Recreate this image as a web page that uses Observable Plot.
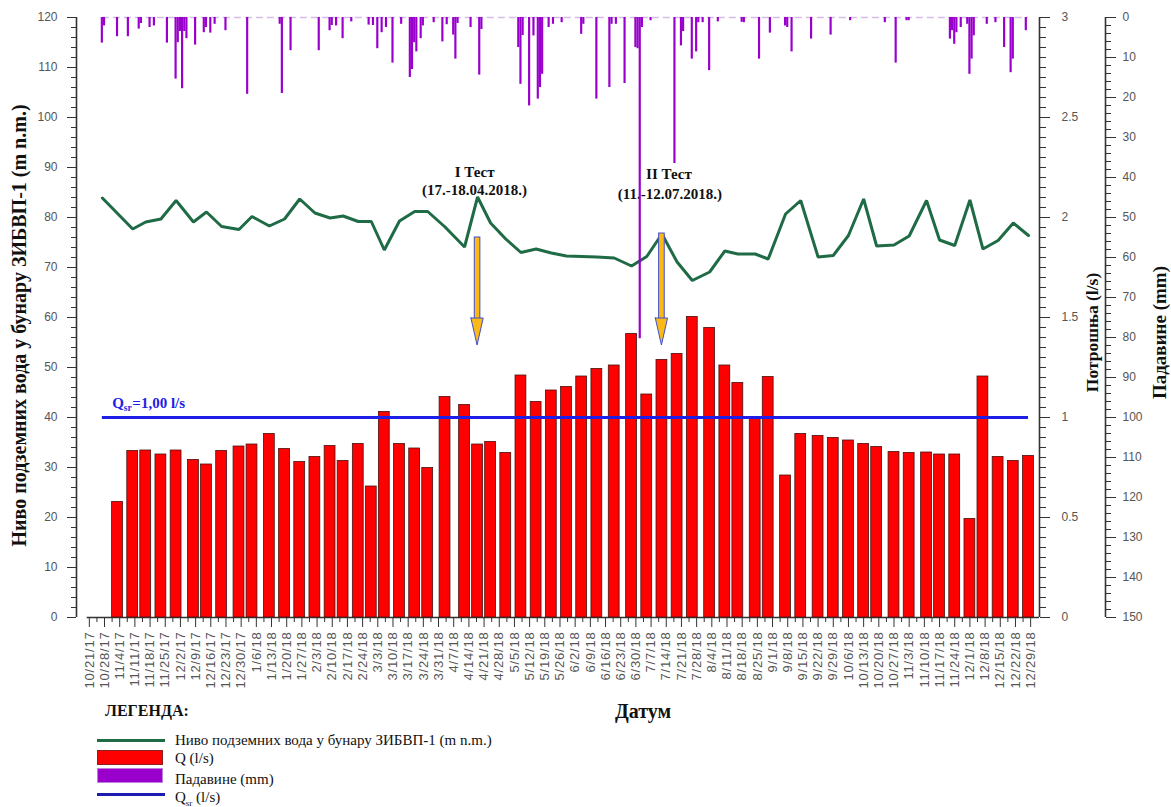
<!DOCTYPE html>
<html>
<head>
<meta charset="utf-8">
<script src="https://cdn.jsdelivr.net/npm/d3@7"></script>
<script src="https://cdn.jsdelivr.net/npm/@observablehq/plot@0.6"></script>
<style>
  html, body { margin: 0; padding: 0; background: #fff; }
  #wrap { position: relative; width: 1171px; height: 807px; overflow: hidden; background: #fff; }
  #wrap > svg { position: absolute; left: 0; top: 0; }
  #wrap g[aria-label="x-axis tick label"] text { letter-spacing: 0.8px; }
  .serif { font-family: "Liberation Serif", "Times New Roman", serif; color: #111; position: absolute; white-space: nowrap; }
  .bold { font-weight: bold; }
  .sw { position: absolute; }
</style>
</head>
<body>
<div id="wrap"></div>
<script>
// ---------------- DATA ----------------
// weekly measurement dates (pumping rate Q, l/s)
const qDates = ["2017-11-03","2017-11-10","2017-11-16","2017-11-23","2017-11-30","2017-12-08","2017-12-14","2017-12-21","2017-12-29",
  "2018-01-04","2018-01-12","2018-01-19","2018-01-26","2018-02-02","2018-02-09","2018-02-15","2018-02-22","2018-02-28",
  "2018-03-06","2018-03-13","2018-03-20","2018-03-26","2018-04-03","2018-04-12","2018-04-18","2018-04-24",
  "2018-05-01","2018-05-08","2018-05-15","2018-05-22","2018-05-29","2018-06-05","2018-06-12","2018-06-20","2018-06-28",
  "2018-07-05","2018-07-12","2018-07-19","2018-07-26","2018-08-03","2018-08-10","2018-08-16","2018-08-24","2018-08-30",
  "2018-09-07","2018-09-14","2018-09-22","2018-09-29","2018-10-06","2018-10-13","2018-10-19","2018-10-27",
  "2018-11-03","2018-11-11","2018-11-17","2018-11-24","2018-12-01","2018-12-07","2018-12-14","2018-12-21","2018-12-28"];
const qValues = [0.578,0.833,0.835,0.815,0.835,0.788,0.765,0.833,0.855,0.865,
  0.918,0.843,0.778,0.803,0.858,0.783,0.868,0.655,1.028,0.868,
  0.845,0.748,1.103,1.063,0.865,0.878,0.823,1.21,1.078,1.135,
  1.153,1.205,1.243,1.26,1.418,1.115,1.288,1.318,1.503,1.448,
  1.26,1.173,0.998,1.203,0.71,0.918,0.908,0.898,0.885,0.868,
  0.853,0.828,0.823,0.825,0.815,0.815,0.493,1.205,0.803,0.783,
  0.808];

// groundwater level (m n.m.)
const levelDates = ["2017-10-27"].concat(qDates);
const levelValues = [83.9,80.8,77.7,79.1,79.7,83.4,79.1,81.1,78.2,77.6,
  80.2,78.3,79.7,83.7,80.9,79.9,80.3,79.2,79.2,73.5,
  79.3,81.2,81.2,78.1,74.1,84.1,78.9,75.7,73.0,73.7,
  72.9,72.3,72.2,72.1,71.9,70.3,72.2,76.7,71.1,67.4,
  69.1,73.3,72.7,72.7,71.7,80.7,83.4,72.1,72.4,76.4,
  83.7,74.3,74.5,76.3,83.4,75.5,74.4,83.5,73.7,75.4,
  78.9,76.4];

// daily precipitation (mm)
const rainDates = ["2017-10-27","2017-10-28","2017-11-03","2017-11-08","2017-11-13","2017-11-14","2017-11-18","2017-11-20","2017-11-26",
  "2017-11-30","2017-12-01","2017-12-02","2017-12-03","2017-12-04","2017-12-05","2017-12-09","2017-12-13","2017-12-14","2017-12-16",
  "2017-12-18","2017-12-23","2018-01-02","2018-01-17","2018-01-18","2018-01-22","2018-02-04","2018-02-09","2018-02-10","2018-02-12",
  "2018-02-15","2018-02-19","2018-02-27","2018-03-01","2018-03-03","2018-03-05","2018-03-07","2018-03-10","2018-03-14","2018-03-18",
  "2018-03-19","2018-03-20","2018-03-21","2018-03-23","2018-03-24","2018-03-29","2018-04-02","2018-04-04","2018-04-07","2018-04-08",
  "2018-04-09","2018-04-15","2018-04-19","2018-04-20","2018-05-07","2018-05-08","2018-05-09","2018-05-12","2018-05-14","2018-05-16",
  "2018-05-17","2018-05-18","2018-05-21","2018-05-23","2018-05-27","2018-06-05","2018-06-06","2018-06-12","2018-06-18","2018-06-19",
  "2018-06-21","2018-06-25","2018-06-30","2018-07-01","2018-07-02","2018-07-03","2018-07-07","2018-07-18","2018-07-21","2018-07-22",
  "2018-07-26","2018-07-28","2018-07-29","2018-07-31","2018-08-03","2018-08-07","2018-08-18","2018-08-19","2018-08-26","2018-08-31",
  "2018-09-07","2018-09-08","2018-09-10","2018-09-19","2018-09-28","2018-10-07","2018-10-23","2018-10-28","2018-11-02","2018-11-03",
  "2018-11-22","2018-11-23","2018-11-24","2018-11-25","2018-11-27","2018-11-30","2018-12-01","2018-12-02","2018-12-03","2018-12-09",
  "2018-12-13","2018-12-17","2018-12-20","2018-12-21","2018-12-27"];
const rainValues = [6.4,2.1,4.8,4.8,2.9,1.5,2.5,2.1,6.4,
  15.4,6.3,3.5,17.8,3.5,5.3,6.9,3.8,2.5,3.9,
  1.7,3.3,19.2,1.7,19.0,8.3,8.3,3.3,2.0,2.1,
  5.3,1.1,1.9,2.0,7.8,3.8,2.5,11.4,1.7,15.0,
  13.0,6.3,8.6,5.3,2.1,1.3,6.1,1.8,4.4,10.4,
  1.5,2.5,14.4,3.0,7.5,16.7,4.5,22.1,4.6,20.4,
  17.5,14.2,2.5,1.7,1.3,4.2,1.7,20.4,17.5,1.7,
  1.7,16.5,7.5,7.8,80.3,2.5,0.8,36.5,7.1,3.5,
  10.4,8.6,1.3,1.3,13.3,1.1,1.2,1.3,10.4,3.9,
  2.1,2.5,8.6,5.4,4.4,0.8,1.3,11.4,0.8,0.8,
  5.4,3.3,6.7,3.8,2.5,1.7,14.2,10.4,4.6,1.7,
  1.3,7.5,13.8,10.4,3.3];

const qsr = 1.00;
const testDates = ["2018-04-18", "2018-07-12"];
const testTitles = ["I Тест", "II Тест"];
const testPeriods = ["(17.-18.04.2018.)", "(11.-12.07.2018.)"];

const leftTicks = d3.range(0, 121, 10);
const qTicks = [0, 0.5, 1, 1.5, 2, 2.5, 3];
const rainTicks = d3.range(0, 151, 10);
const firstWeekTick = "2017-10-21";
const lastWeekTick = "2018-12-29";

const leftTitle = "Ниво подземних вода у бунару ЗИБВП-1 (m n.m.)";
const qTitle = "Потрошња (l/s)";
const rainTitle = "Падавине (mm)";

// ---------------- BUILD ----------------
const parse = d3.utcParse("%Y-%m-%d");
const qData = qDates.map((d, i) => ({date: parse(d), q: qValues[i]}));
const levelData = levelDates.map((d, i) => ({date: parse(d), level: levelValues[i]}));
const rainData = rainDates.map((d, i) => ({date: parse(d), mm: rainValues[i]}));
const tests = testDates.map((d, i) => ({date: parse(d), title: testTitles[i], period: testPeriods[i]}));

const xDomain = [new Date(Date.UTC(2017, 9, 15, 2)), new Date(Date.UTC(2019, 0, 2, 2))];
const weekTicks = d3.utcSaturday.range(parse(firstWeekTick), d3.utcDay.offset(parse(lastWeekTick), 1));
const midTicks = weekTicks.slice(0, -1).map(d => d3.utcHour.offset(d, 84));
const fmt = d3.utcFormat("%-m/%-d/%y");

const W = 1171, H = 720;
const base = {
  width: W, height: H,
  marginLeft: 76, marginRight: 132, marginTop: 17, marginBottom: 103,
  style: {background: "transparent", fontFamily: "'Liberation Sans', Arial, sans-serif", fontSize: "12px", overflow: "visible"}
};
const serif = "'Liberation Serif', 'Times New Roman', serif";
const AX = "#333", LBL = "#555";
const titleStyle = {rotate: -90, textAnchor: "middle", fontFamily: serif, fontWeight: "bold", fill: "#111"};
const annStyle = {fontFamily: serif, fontWeight: "bold", fontSize: 15, fill: "#111"};

// Plot A: groundwater level, left axis, date axis
const plotA = Plot.plot({
  ...base,
  x: {type: "utc", domain: xDomain, label: null},
  y: {domain: [0, 120], label: null},
  marks: [
    Plot.ruleY([0], {x1: d3.utcDay.offset(parse(firstWeekTick), -1), x2: xDomain[1], stroke: AX, strokeWidth: 1.3}),
    Plot.ruleX([xDomain[0]], {y1: 0, y2: 120, stroke: AX, strokeWidth: 1.6}),
    Plot.axisY({ticks: leftTicks, anchor: "left", tickSize: 9, tickPadding: 10, stroke: AX, fill: LBL, label: null}),
    Plot.axisY({ticks: d3.range(0, 121, 2), anchor: "left", tickSize: 5, tickFormat: () => "", stroke: AX, label: null}),
    Plot.axisX({ticks: weekTicks, tickFormat: fmt, tickRotate: -90, tickSize: 10, tickPadding: 4, fontSize: 13, stroke: AX, fill: LBL, label: null}),
    Plot.axisX({ticks: midTicks, tickSize: 5, tickFormat: () => "", stroke: AX, label: null}),
    Plot.line(levelData, {x: "date", y: "level", stroke: "#1f6b45", strokeWidth: 3, strokeLinejoin: "miter"}),
    Plot.text([leftTitle], {frameAnchor: "left", dx: -57, dy: 8, fontSize: 20, ...titleStyle})
  ]
});

// Plot B: pumping rate Q (l/s), right axis, annotations
const headTop = 1.495, tip = 1.36;
const arrowTops = [1.90, 1.92];
const heads = tests.flatMap((t, i) => [
  {id: i, date: d3.utcHour.offset(t.date, -68), top: headTop, bot: headTop},
  {id: i, date: t.date, top: headTop, bot: tip},
  {id: i, date: d3.utcHour.offset(t.date, 68), top: headTop, bot: headTop}
]);
const qLabelAnchor = [levelData[0]];
const qsrStyle = {x: "date", y: () => qsr, textAnchor: "start", fontFamily: serif, fontWeight: "bold", fill: "#1e1ee6"};
const plotB = Plot.plot({
  ...base,
  x: {type: "utc", domain: xDomain, axis: null, label: null},
  y: {domain: [0, 3], label: null},
  marks: [
    Plot.rectY(qData, {x1: d => d3.utcHour.offset(d.date, -60), x2: d => d3.utcHour.offset(d.date, 60), y1: 0, y2: "q",
      fill: "#ff0000", stroke: "#4a1212", strokeWidth: 0.8}),
    Plot.ruleY([qsr], {x1: levelData[0].date, x2: levelData[levelData.length - 1].date, stroke: "#1e1ee6", strokeWidth: 3}),
    Plot.text(qLabelAnchor, {...qsrStyle, text: () => "Q", dx: 10, dy: -14, fontSize: 15}),
    Plot.text(qLabelAnchor, {...qsrStyle, text: () => "sr", dx: 21.5, dy: -10, fontSize: 9.5}),
    Plot.text(qLabelAnchor, {...qsrStyle, text: () => "=1,00 l/s", dx: 30, dy: -14, fontSize: 15}),
    // test arrows
    Plot.rectY(tests, {x1: d => d3.utcHour.offset(d.date, -31), x2: d => d3.utcHour.offset(d.date, 31),
      y1: headTop - 0.01, y2: (d, i) => arrowTops[i], fill: "#fbb917", stroke: "#3f4fd0", strokeWidth: 1}),
    Plot.areaY(heads, {x: "date", y1: "top", y2: "bot", z: "id", fill: "#fbb917", stroke: "#3f4fd0", strokeWidth: 1}),
    // test labels
    Plot.text([tests[0]], {x: "date", y: () => 2.225, text: "title", dx: -3, ...annStyle}),
    Plot.text([tests[0]], {x: "date", y: () => 2.135, text: "period", dx: -3, ...annStyle}),
    Plot.text([tests[1]], {x: "date", y: () => 2.2165, text: "title", dx: 7, ...annStyle}),
    Plot.text([tests[1]], {x: "date", y: () => 2.1165, text: "period", dx: 8, ...annStyle}),
    Plot.ruleX([xDomain[1]], {y1: 0, y2: 3, stroke: AX, strokeWidth: 1.6}),
    Plot.axisY({ticks: qTicks, anchor: "right", tickSize: 10, tickPadding: 12, tickFormat: d3.format("~g"), stroke: AX, fill: LBL, label: null}),
    Plot.axisY({ticks: d3.range(0, 3.001, 0.05), anchor: "right", tickSize: 6, tickFormat: () => "", stroke: AX, label: null}),
    Plot.text([qTitle], {frameAnchor: "right", dx: 53, dy: 15, fontSize: 17.5, ...titleStyle})
  ]
});

// Plot C: precipitation (mm), far right reversed axis
const rainAxisShift = 66;
const plotC = Plot.plot({
  ...base,
  x: {type: "utc", domain: xDomain, axis: null, label: null},
  y: {domain: [0, 150], reverse: true, label: null},
  marks: [
    Plot.ruleY([0], {x1: levelData[0].date, x2: levelData[levelData.length - 1].date, stroke: "#d6bde8", strokeWidth: 1.5, strokeDasharray: "7,4"}),
    Plot.rectY(rainData, {x1: d => d3.utcHour.offset(d.date, -12), x2: d => d3.utcHour.offset(d.date, 12), y1: 0, y2: "mm", fill: "#9900cc"}),
    Plot.ruleX([xDomain[1]], {y1: 0, y2: 150, dx: rainAxisShift, stroke: AX, strokeWidth: 1.6}),
    Plot.axisY({ticks: rainTicks, anchor: "right", dx: rainAxisShift, tickSize: 10, tickPadding: 7, stroke: AX, fill: LBL, label: null}),
    Plot.axisY({ticks: d3.range(0, 151, 2), anchor: "right", dx: rainAxisShift, tickSize: 5, tickFormat: () => "", stroke: AX, label: null}),
    Plot.text([rainTitle], {frameAnchor: "right", dx: 120, dy: 15, fontSize: 19, ...titleStyle})
  ]
});

const wrap = document.getElementById("wrap");
wrap.appendChild(plotA);
wrap.appendChild(plotB);
wrap.appendChild(plotC);

// ---------------- LEGEND / BOTTOM TEXT ----------------
const html = `
  <div class="serif bold" style="left:105px;top:702px;font-size:16px;">ЛЕГЕНДА:</div>
  <div class="serif bold" style="left:643px;top:711px;font-size:20px;transform:translate(-50%,-50%);">Датум</div>
  <div class="sw" style="left:97px;top:739px;width:68px;height:3px;background:#1f6b45;"></div>
  <div class="sw" style="left:97px;top:750px;width:66px;height:15px;background:#ff0000;box-sizing:border-box;border:1px solid #8a2020;"></div>
  <div class="sw" style="left:97px;top:768px;width:66px;height:15px;background:#9900cc;box-sizing:border-box;border:1px solid #c080e0;"></div>
  <div class="sw" style="left:97px;top:793px;width:68px;height:3px;background:#1c1cb0;"></div>
  <div class="serif" style="left:175px;top:731px;font-size:15px;line-height:18px;">Ниво подземних вода у бунару ЗИБВП-1 (m n.m.)</div>
  <div class="serif" style="left:175px;top:749px;font-size:15px;line-height:18px;">Q (l/s)</div>
  <div class="serif" style="left:175px;top:770px;font-size:15px;line-height:18px;">Падавине (mm)</div>
  <div class="serif" style="left:175px;top:788px;font-size:15px;line-height:18px;">Q<sub style="font-size:9px;">sr</sub> (l/s)</div>
`;
wrap.insertAdjacentHTML("beforeend", html);
</script>
</body>
</html>
